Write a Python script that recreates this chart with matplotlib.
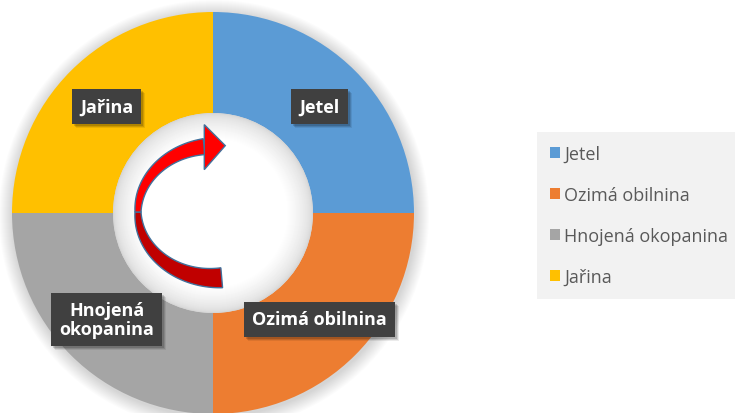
import numpy as np
import matplotlib
matplotlib.use("Agg")
import matplotlib.pyplot as plt
from matplotlib.patches import Circle, Polygon, Patch, Rectangle

# ---------------- data ----------------
crops  = ["Jetel", "Ozimá obilnina", "Hnojená okopanina", "Jařina"]
shares = [1, 1, 1, 1]   # four equal years of the rotation
colors = ["#5b9bd5", "#ed7d31", "#a5a5a5", "#ffc000"]
slice_labels = ["Jetel", "Ozimá obilnina", "Hnojená\nokopanina", "Jařina"]

# ---------------- layout (pixels) ----------------
W, H = 735, 414
CX, CY = 213, H - 214     # donut centre
R_OUT, R_IN = 201, 100

plt.rcParams["font.family"] = ["Open Sans", "DejaVu Sans"]

fig = plt.figure(figsize=(W / 100, H / 100), dpi=100)
ax = fig.add_axes([0, 0, 1, 1])

# soft outer shadow
for i in range(14):
    ax.add_patch(Circle((CX + 1, CY - 2), R_OUT + 14 - i, color="#000000",
                        alpha=0.012, lw=0, zorder=0))

wedges, _ = ax.pie(shares, colors=colors, startangle=90, counterclock=False,
                   radius=R_OUT, center=(CX, CY), frame=True,
                   wedgeprops=dict(width=R_OUT - R_IN, linewidth=0))
ax.set_xlim(0, W)
ax.set_ylim(0, H)
ax.set_aspect("equal")
ax.axis("off")

# hole with soft inner shading
n = 26
for i in range(n):
    g = 0.84 + (1.0 - 0.84) * (i / (n - 1)) ** 0.6
    ax.add_patch(Circle((CX, CY), R_IN - i * 1.0, color=(g, g, g), lw=0, zorder=2))

# ---------------- labels in dark boxes ----------------
r_lab = (R_OUT + R_IN) / 2
texts = []
for w, lab in zip(wedges, slice_labels):
    a = np.deg2rad((w.theta1 + w.theta2) / 2)
    x, y = CX + r_lab * np.cos(a), CY + r_lab * np.sin(a)
    t = ax.text(x, y, lab, ha="center", va="center", fontsize=13, fontweight="bold",
                color="white", linespacing=1.1, zorder=5,
                bbox=dict(boxstyle="square,pad=0.45", fc="#404040", ec="none"))
    texts.append(t)

# box shadows (drawn after layout so we know box sizes)
fig.canvas.draw()
inv = ax.transData.inverted()
for t in texts:
    bb = t.get_bbox_patch().get_window_extent()
    (x0, y0), (x1, y1) = inv.transform([(bb.x0, bb.y0), (bb.x1, bb.y1)])
    for k, al in [(4, 0.08), (3, 0.12), (2, 0.15)]:
        ax.add_patch(Rectangle((x0 + k, y0 - k), x1 - x0, y1 - y0, fc="#000000",
                               ec="none", alpha=al, zorder=4))

# ---------------- red rotation arrow ----------------
ACX, ACY, ARX, ARY = 215, H - 213, 77, 66
t_nodes = [-85, -180, -262]
w_nodes = [10, 3, 8]

def ribbon(t0, t1):
    t = np.linspace(t0, t1, 60)
    hw = np.interp(-t, [-v for v in t_nodes], w_nodes)
    rad = np.deg2rad(t)
    xo = ACX + (ARX + hw) * np.cos(rad); yo = ACY + (ARY + hw) * np.sin(rad)
    xi = ACX + (ARX - hw) * np.cos(rad); yi = ACY + (ARY - hw) * np.sin(rad)
    return np.column_stack([np.r_[xo, xi[::-1]], np.r_[yo, yi[::-1]]])

ax.add_patch(Polygon(ribbon(-85, -180), closed=True, fc="#c00000", ec="#41719c",
                     lw=1, zorder=6))
ax.add_patch(Polygon(ribbon(-180, -262), closed=True, fc="#ff0000", ec="#41719c",
                     lw=1, zorder=6))
# arrow head
hb = np.deg2rad(-262)
bx, by = ACX + ARX * np.cos(hb), ACY + ARY * np.sin(hb)
ax.add_patch(Polygon([(bx, by + 8), (bx, by + 22), (bx + 21, by + 1),
                      (bx, by - 23), (bx, by - 8)], closed=True,
                     fc="#ff0000", ec="#41719c", lw=1, zorder=7))

# ---------------- legend ----------------
handles = [Patch(fc=c, ec="none") for c in colors]
leg = fig.legend(handles, crops, loc="upper left",
                 bbox_to_anchor=(537 / W, 1 - 133 / H), bbox_transform=fig.transFigure,
                 frameon=True, fancybox=False, facecolor="#f2f2f2", edgecolor="none",
                 fontsize=13, labelcolor="#595959", handlelength=0.6, handleheight=0.6,
                 handletextpad=0.2, labelspacing=1.28, borderpad=0.7, borderaxespad=0)
leg.get_frame().set_alpha(1)

fig.savefig("out.png", dpi=100, facecolor="white")
